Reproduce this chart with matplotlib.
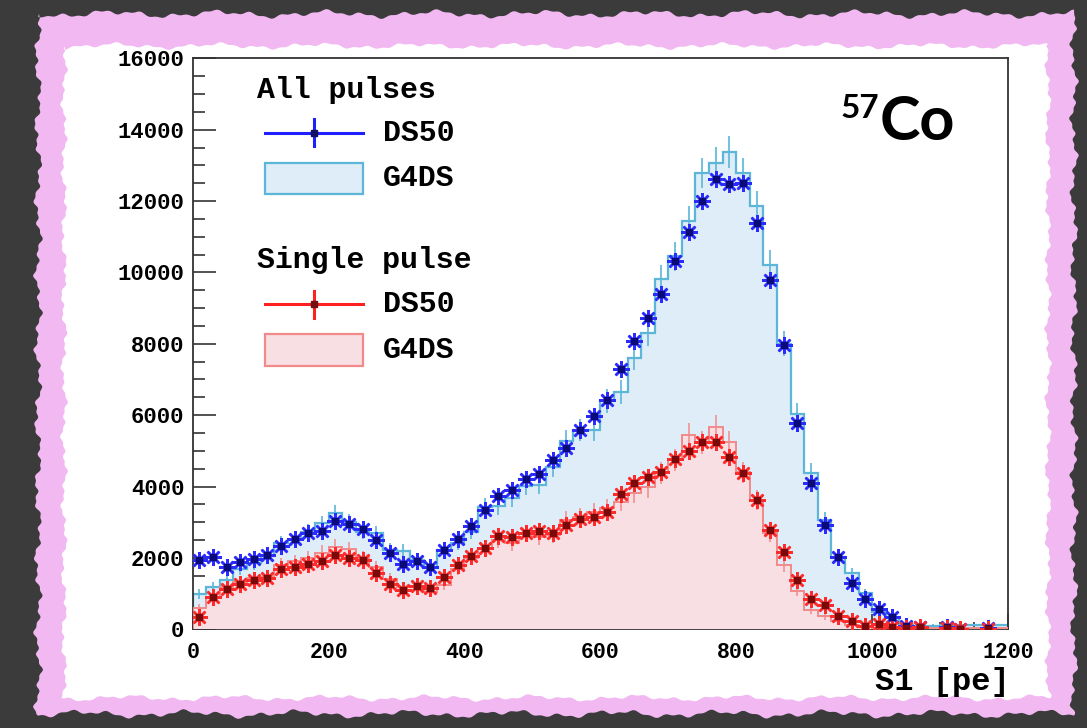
"""
57Co S1 spectrum: DS50 data vs G4DS simulation, all pulses and single pulse.
"""

import numpy as np
import matplotlib
matplotlib.use("Agg")
import matplotlib.pyplot as plt
from matplotlib.patches import Rectangle, Polygon
from matplotlib.lines import Line2D

nan = np.nan

# bin edges of the S1 histogram [pe]
bin_edges = np.arange(0, 1220, 20)

# DS50 data, all pulses
ds50_all = [
    1940, 2016, 1753, 1893, 1960, 2080, 2341, 2528, 2705, 2761,
    3032, 2940, 2817, 2492, 2145, 1820, 1921, 1753, 2209, 2542,
    2901, 3340, 3741, 3909, 4200, 4348, 4740, 5068, 5580, 5972,
    6420, 7280, 8092, 8736, 9408, 10312, 11133, 12001, 12617, 12468,
    12516, 11385, 9800, 7980, 5790, 4105, 2920, 2016, 1305, 840,
    577, 344, 80, 70, nan, 60, 20, nan, 30, nan,
]

# G4DS simulation, all pulses
g4ds_all = [
    988, 1176, 1380, 1680, 1850, 2052, 2408, 2500, 2733, 2968,
    3248, 3013, 2733, 2688, 2220, 2201, 1940, 1708, 2230, 2430,
    2733, 3433, 3452, 3668, 4012, 4040, 4536, 5281, 5580, 5580,
    6400, 6653, 7616, 8300, 9828, 10452, 11441, 12785, 13076, 13373,
    12785, 11852, 10220, 8008, 6028, 4385, 3060, 2033, 1568, 1008,
    493, 353, 120, 100, 100, 110, 110, 120, 120, 120,
]
g4ds_all_err = [
    150, 150, 160, 170, 180, 180, 200, 200, 210, 220,
    230, 220, 210, 210, 190, 190, 180, 170, 190, 200,
    210, 240, 240, 250, 260, 260, 280, 300, 310, 310,
    330, 340, 360, 370, 390, 400, 410, 430, 440, 440,
    430, 420, 400, 360, 320, 270, 230, 190, 160, 130,
    90, 80, 50, 40, 40, 40, 40, 40, 40, 40,
]

# DS50 data, single pulse
ds50_single = [
    336, 896, 1120, 1268, 1380, 1428, 1680, 1736, 1828, 1912,
    2080, 2005, 1940, 1585, 1260, 1100, 1212, 1148, 1473, 1800,
    2061, 2285, 2621, 2576, 2705, 2761, 2705, 2920, 3088, 3153,
    3293, 3788, 4088, 4273, 4396, 4760, 5001, 5236, 5236, 4833,
    4385, 3620, 2780, 2156, 1380, 840, 672, 372, 241, 100,
    140, 60, 30, 70, nan, 50, 10, nan, 20, nan,
]

# G4DS simulation, single pulse
g4ds_single = [
    588, 896, 1176, 1333, 1428, 1473, 1800, 1900, 1990, 2145,
    2313, 2250, 2000, 1736, 1400, 1176, 1176, 1053, 1250, 1690,
    1988, 2268, 2500, 2408, 2668, 2593, 2640, 3060, 3153, 3293,
    3388, 3573, 3808, 3976, 4385, 4740, 5440, 5236, 5656, 5236,
    4400, 3620, 2688, 1800, 1070, 540, 360, 241, 120, 80,
    40, 40, 30, 30, 30, 30, 30, 30, 30, 30,
]
g4ds_single_err = [
    110, 140, 150, 160, 170, 170, 190, 190, 200, 210,
    220, 210, 200, 190, 170, 160, 160, 150, 160, 180,
    200, 210, 220, 220, 230, 230, 230, 250, 250, 260,
    260, 270, 280, 290, 300, 310, 330, 320, 340, 320,
    300, 270, 230, 190, 150, 110, 90, 70, 50, 40,
    30, 30, 30, 30, 30, 30, 30, 30, 30, 30,
]

y_ticks = [0, 2000, 4000, 6000, 8000, 10000, 12000, 14000, 16000]
x_ticks = [0, 200, 400, 600, 800, 1000, 1200]

W, H = 1087, 728
MONO = "Liberation Mono"

BLUE_FILL = "#dfedf9"
BLUE_EDGE = "#5bb6d8"
BLUE_PT = "#2b2bff"
BLUE_CORE = "#0a0a78"
RED_FILL = "#f8dfe4"
RED_EDGE = "#f28a8a"
RED_PT = "#ff2a2a"
RED_CORE = "#7a0a0a"


def fx(px):
    return px / W


def fy(py):
    return 1 - py / H


def rough_rect(x0, y0, x1, y1, amp, n=400, phase=0.0):
    """Closed polygon (figure fraction) with a ragged, hand-torn edge."""
    t = np.linspace(0, 1, n)

    def wob(k):
        return amp * (0.45 * np.sin(61 * t + k + phase)
                      + 0.35 * np.sin(173 * t + 2.3 * k + phase)
                      + 0.20 * np.sin(419 * t + 3.1 * k))
    top = np.c_[x0 + (x1 - x0) * t, y0 + wob(0.3)]
    right = np.c_[x1 + wob(1.7), y0 + (y1 - y0) * t]
    bot = np.c_[x1 - (x1 - x0) * t, y1 + wob(2.9)]
    left = np.c_[x0 + wob(4.1), y1 - (y1 - y0) * t]
    pts = np.vstack([top, right, bot, left])
    return np.c_[pts[:, 0] / W, 1 - pts[:, 1] / H]


fig = plt.figure(figsize=(W / 100, H / 100), dpi=100)
fig.patch.set_facecolor("#3b3b3b")

fig.patches.append(Polygon(rough_rect(38, 14, 1074, 714, 5), closed=True,
                           transform=fig.transFigure, facecolor="#f1b8f1",
                           edgecolor="none", zorder=-3))
fig.patches.append(Polygon(rough_rect(64, 46, 1048, 698, 4, phase=1.3),
                           closed=True, transform=fig.transFigure,
                           facecolor="white", edgecolor="none", zorder=-2))

ax = fig.add_axes([fx(192.7), fy(629.3), fx(1008) - fx(192.7),
                   fy(58.3) - fy(629.3)])
ax.set_facecolor("white")

edges = bin_edges
centers = 0.5 * (edges[:-1] + edges[1:])

# G4DS histograms (filled steps)
ax.stairs(g4ds_all, edges, fill=True, color=BLUE_FILL, zorder=1)
ax.stairs(g4ds_all, edges, color=BLUE_EDGE, lw=1.6, zorder=2)
ax.vlines(centers, np.array(g4ds_all) - g4ds_all_err,
          np.array(g4ds_all) + g4ds_all_err, color=BLUE_EDGE, lw=1.2, zorder=2)

ax.stairs(g4ds_single, edges, fill=True, color=RED_FILL, zorder=3)
ax.stairs(g4ds_single, edges, color=RED_EDGE, lw=1.4, zorder=4)
ax.vlines(centers, np.array(g4ds_single) - g4ds_single_err,
          np.array(g4ds_single) + g4ds_single_err, color=RED_EDGE, lw=1.1,
          zorder=4)

# DS50 data points
star = (8, 2, 0)
for vals, c_pt, c_core in [(ds50_all, BLUE_PT, BLUE_CORE),
                           (ds50_single, RED_PT, RED_CORE)]:
    ax.plot(centers, vals, ls="none", marker=star, ms=12, mew=1.8,
            color=c_pt, zorder=6)
    ax.plot(centers, vals, ls="none", marker="s", ms=5, color=c_core,
            zorder=7)

ax.set_xlim(0, 1200)
ax.set_ylim(0, 16000)
ax.set_xticks(x_ticks)
ax.set_yticks(y_ticks)
ax.set_xticks(np.arange(0, 1201, 50), minor=True)
ax.set_yticks(np.arange(0, 16001, 500), minor=True)
ax.set_xticklabels([str(v) for v in x_ticks], fontfamily=MONO,
                   fontweight="bold", fontsize=15.5)
ax.set_yticklabels([str(v) for v in y_ticks], fontfamily=MONO,
                   fontweight="bold", fontsize=16)
ax.tick_params(axis="y", which="major", direction="in", length=16.5,
               width=1.2, pad=6, color="#333333")
ax.tick_params(axis="y", which="minor", direction="in", length=8.3,
               width=1.2, color="#333333")
ax.tick_params(axis="x", which="major", direction="in", length=10.8,
               width=1.2, pad=9, color="#333333")
ax.tick_params(axis="x", which="minor", direction="in", length=5.4,
               width=1.2, color="#333333")
for s in ax.spines.values():
    s.set_linewidth(1.3)
    s.set_color("#333333")

fig.text(fx(1010), fy(690), "S1 [pe]", ha="right", va="baseline",
         fontfamily=MONO, fontweight="bold", fontsize=23)

# isotope label
fig.text(fx(880), fy(140), "Co", ha="left", va="baseline",
         fontfamily="Lato", fontweight="bold", fontsize=44)
fig.text(fx(879), fy(118), "57", ha="right", va="baseline",
         fontfamily="Lato", fontweight="bold", fontsize=24)

# legend, drawn by hand
leg_font = dict(fontfamily=MONO, fontweight="bold", fontsize=21.5,
                va="center")
fig.text(fx(257), fy(90), "All pulses", ha="left", **leg_font)
fig.text(fx(257), fy(260), "Single pulse", ha="left", **leg_font)

for y_line, y_box, c_pt, c_core, c_fill, c_edge in [
        (132.7, 162.7, "#2020ff", "#101060", BLUE_FILL, BLUE_EDGE),
        (304.3, 334.3, "#ff2020", "#701010", RED_FILL, RED_EDGE)]:
    fig.lines.append(Line2D([fx(265), fx(363)], [fy(y_line)] * 2,
                            transform=fig.transFigure, color=c_pt, lw=2.2,
                            zorder=5))
    fig.lines.append(Line2D([fx(313.7)] * 2, [fy(y_line - 13.5),
                                              fy(y_line + 13.5)],
                            transform=fig.transFigure, color=c_pt, lw=2.2,
                            zorder=5))
    fig.lines.append(Line2D([fx(313.7)], [fy(y_line)], marker="s", ms=4,
                            color=c_core, transform=fig.transFigure,
                            zorder=6))
    fig.patches.append(Rectangle((fx(265), fy(y_box + 31.5)),
                                 fx(363) - fx(265), fy(y_box) - fy(y_box + 31.5),
                                 transform=fig.transFigure, facecolor=c_fill,
                                 edgecolor=c_edge, lw=1.6, zorder=5))
    fig.text(fx(383), fy(y_line), "DS50", ha="left", **leg_font)
    fig.text(fx(383), fy(y_box + 15.7), "G4DS", ha="left", **leg_font)

fig.savefig("out.png", dpi=100, facecolor=fig.get_facecolor())
plt.close(fig)
